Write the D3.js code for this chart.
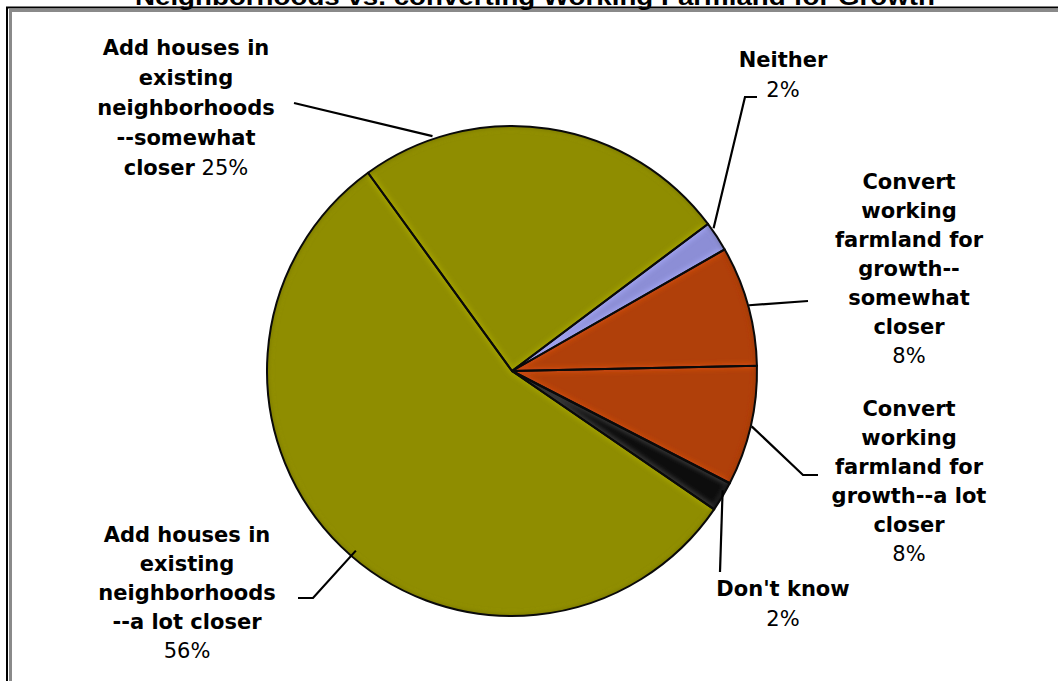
<!DOCTYPE html>
<html>
<head>
<meta charset="utf-8">
<script src="https://cdn.jsdelivr.net/npm/d3@7"></script>
<style>
  html, body { margin: 0; padding: 0; background: #fff; }
  svg { display: block; }
</style>
</head>
<body>
<svg id="chart" width="1058" height="681"></svg>
<script>
// Survey answers, in the order the slices are drawn (clockwise)
const categories = [
  "Add houses in existing neighborhoods--a lot closer",
  "Add houses in existing neighborhoods--somewhat closer",
  "Neither",
  "Convert working farmland for growth--somewhat closer",
  "Convert working farmland for growth--a lot closer",
  "Don't know"
];
const values = [56, 25, 2, 8, 8, 2];
const percentLabels = ["56%", "25%", "2%", "8%", "8%", "2%"];
const labelLines = [
  ["Add houses in", "existing", "neighborhoods", "--a lot closer"],
  ["Add houses in", "existing", "neighborhoods", "--somewhat", "closer"],
  ["Neither"],
  ["Convert", "working", "farmland for", "growth--", "somewhat", "closer"],
  ["Convert", "working", "farmland for", "growth--a lot", "closer"],
  ["Don't know"]
];
const sliceColors = ["#8f8d00", "#8f8d00", "#8c8ed6", "#b0400a", "#b0400a", "#0d0d0d"];
const titleText = "Neighborhoods vs. converting Working Farmland for Growth";

const svg = d3.select("#chart");
const W = 1058, H = 681;
const cx = 512, cy = 371, R = 245;
const deg = Math.PI / 180;

// chart frame: black outer rule with a grey inner rule
svg.append("path")
  .attr("d", `M7,${H + 5} V7.5 H${W + 5}`)
  .attr("fill", "none").attr("stroke", "#000").attr("stroke-width", 2);
svg.append("path")
  .attr("d", `M10.5,${H + 5} V10.5 H${W + 5}`)
  .attr("fill", "none").attr("stroke", "#8a8a8a").attr("stroke-width", 3);

// title (sits above the frame, mostly off the top edge)
svg.append("text")
  .attr("x", 535).attr("y", 4.5)
  .attr("text-anchor", "middle")
  .attr("font-family", "'Liberation Sans', Arial, sans-serif")
  .attr("font-weight", "bold")
  .attr("font-size", 24)
  .attr("textLength", 800)
  .attr("lengthAdjust", "spacingAndGlyphs")
  .text(titleText);

const pie = d3.pie().sort(null).value(d => d)
  .startAngle(124.4 * deg).endAngle(124.4 * deg + 2 * Math.PI);
const arcs = pie(values);
const arc = d3.arc().innerRadius(0).outerRadius(R);

const defs = svg.append("defs");
const blur = defs.append("filter").attr("id", "soft")
  .attr("x", "-20%").attr("y", "-20%").attr("width", "140%").attr("height", "140%");
blur.append("feGaussianBlur").attr("stdDeviation", 2.2);

const g = svg.append("g").attr("transform", `translate(${cx},${cy})`);

arcs.forEach((a, i) => {
  defs.append("clipPath").attr("id", "clip" + i)
    .append("path").attr("d", arc(a));
});

// slice fills
g.selectAll("path.slice").data(arcs).join("path")
  .attr("class", "slice")
  .attr("d", arc)
  .attr("fill", (d, i) => sliceColors[i]);

// bevel: light inner edge, darker rim
g.selectAll("g.bevel").data(arcs).join("g")
  .attr("class", "bevel")
  .attr("clip-path", (d, i) => `url(#clip${i})`)
  .each(function (d, i) {
    const base = d3.color(sliceColors[i]);
    d3.select(this).append("path")
      .attr("d", arc(d))
      .attr("fill", "none")
      .attr("stroke", i === 5 ? "#555" : base.brighter(0.6))
      .attr("stroke-width", 7)
      .attr("stroke-opacity", 0.55)
      .attr("filter", "url(#soft)");
    d3.select(this).append("path")
      .attr("d", d3.arc().innerRadius(R - 3).outerRadius(R + 6)(d))
      .attr("fill", base.darker(0.9))
      .attr("fill-opacity", 0.6)
      .attr("filter", "url(#soft)");
  });

// slice outlines
g.selectAll("path.edge").data(arcs).join("path")
  .attr("class", "edge")
  .attr("d", arc)
  .attr("fill", "none")
  .attr("stroke", "#0a0a0a")
  .attr("stroke-width", 2)
  .attr("stroke-linejoin", "round");

// label placement: centre x, first baseline, line step
const labelPos = [
  { x: 187, y: 542, step: 29 },
  { x: 186, y: 55, step: 30 },
  { x: 783, y: 67, step: 30 },
  { x: 909, y: 189, step: 29 },
  { x: 909, y: 416, step: 29 },
  { x: 783, y: 596, step: 30 }
];
// leader lines: points on the label side, then the angle/radius where they meet the pie
const leaders = [
  { pts: [[298, 598], [313, 598]], ang: 221, r: 238 },
  { pts: [[294, 103]], ang: -18.7, r: 248 },
  { pts: [[757, 97], [745, 97]], ang: 54.7, r: 247 },
  { pts: [[808, 301]], ang: 74.5, r: 246 },
  { pts: [[818, 475], [803, 475]], ang: 103, r: 246 },
  { pts: [[720, 572]], ang: 119.5, r: 242 }
];

leaders.forEach(l => {
  const end = [cx + l.r * Math.sin(l.ang * deg), cy - l.r * Math.cos(l.ang * deg)];
  svg.append("path")
    .attr("d", d3.line()(l.pts.concat([end])))
    .attr("fill", "none").attr("stroke", "#000").attr("stroke-width", 2.2);
});

const FONT = "'DejaVu Sans', Verdana, sans-serif";
const FS = 21;

labelLines.forEach((lines, i) => {
  const p = labelPos[i];
  const t = svg.append("text")
    .attr("text-anchor", "middle")
    .attr("font-family", FONT)
    .attr("font-size", FS)
    .attr("fill", "#000");
  lines.forEach((ln, k) => {
    const ts = t.append("tspan")
      .attr("x", p.x).attr("y", p.y + k * p.step)
      .attr("font-weight", "bold")
      .text(ln);
    if (i === 1 && k === lines.length - 1) {
      t.append("tspan").attr("font-weight", "normal").text(" " + percentLabels[i]);
    }
  });
  if (i !== 1) {
    t.append("tspan")
      .attr("x", p.x).attr("y", p.y + lines.length * p.step)
      .attr("font-weight", "normal")
      .text(percentLabels[i]);
  }
});
</script>
</body>
</html>
